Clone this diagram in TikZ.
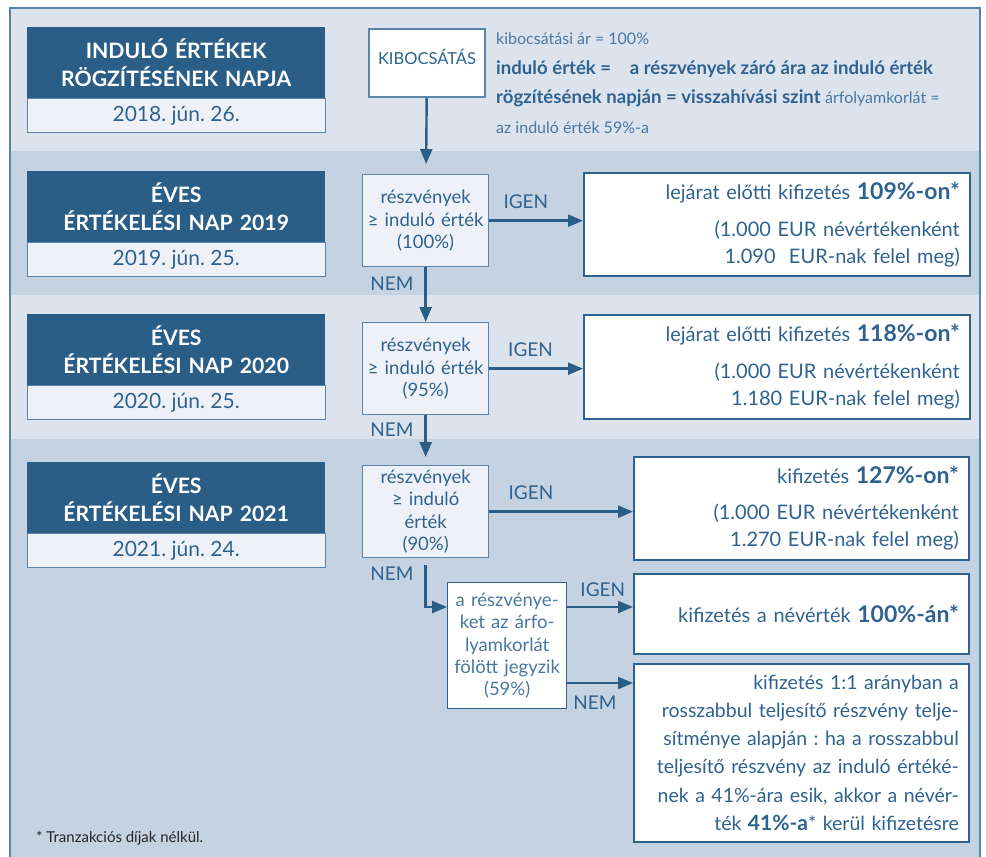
\documentclass[tikz,border=0pt]{standalone}
\usepackage{fontspec}
\setmainfont{Lato}
\usetikzlibrary{arrows.meta,positioning}
\frenchspacing

\definecolor{darkblue}{HTML}{2B5E87}
\definecolor{textblue}{HTML}{2F6290}
\definecolor{softblue}{HTML}{4A78A3}
\definecolor{lineblue}{HTML}{5B84AD}
\definecolor{bandlight}{HTML}{DCE3ED}
\definecolor{banddark}{HTML}{C5D2E2}
\definecolor{paleblue}{HTML}{EEF2F8}

\tikzset{
  headbox/.style={fill=darkblue, text=white, inner sep=0pt, text width=298pt,
    minimum height=71pt, align=center, font=\bfseries\fontsize{21.2}{28}\selectfont},
  datebox/.style={fill=paleblue, draw=lineblue, line width=1pt, inner sep=0pt,
    minimum width=298pt, minimum height=34pt, text=textblue, font=\fontsize{21}{25}\selectfont},
  kibbox/.style={fill=white, draw=lineblue, line width=2pt, inner sep=0pt,
    minimum width=116pt, minimum height=68pt, text depth=12pt, text=textblue,
    font=\fontsize{16.5}{20}\selectfont},
  decbox/.style={fill=paleblue, draw=lineblue, line width=1.3pt, inner sep=0pt,
    text width=126pt, minimum height=92pt, align=center, text=textblue,
    font=\fontsize{18.5}{22.3}\selectfont},
  limbox/.style={decbox, fill=white, draw=textblue, text width=119pt, minimum height=126pt, text=softblue},
  reswide/.style={fill=white, draw=textblue, line width=1.6pt, inner xsep=10pt, inner ysep=0pt,
    text width=366pt, align=right, text=textblue, font=\fontsize{20}{27}\selectfont},
  resnarrow/.style={reswide, text width=315pt},
  arr/.style={-{Triangle[length=15pt,width=12pt]}, line width=2.4pt, draw=darkblue},
  lbl/.style={text=textblue, font=\fontsize{19}{22}\selectfont, inner sep=2pt},
}
\newcommand{\bignum}[1]{{\bfseries\fontsize{23}{27}\selectfont #1*}}

\begin{document}
\begin{tikzpicture}[x=1pt,y=-1pt]
\useasboundingbox (0,0) rectangle (986,857);
% bands and frame
\fill[white] (0,0) rectangle (986,857);
\fill[bandlight] (10,8) rectangle (980,151);
\fill[banddark] (10,151) rectangle (980,295);
\fill[bandlight] (10,295) rectangle (980,439);
\fill[banddark] (10,439) rectangle (980,870);
\draw[lineblue, line width=1.3pt] (10,870) -- (10,8) -- (980,8) -- (980,870);

% date column
\node[headbox, anchor=north west] (head1) at (27,27) {INDULÓ ÉRTÉKEK\\RÖGZÍTÉSÉNEK NAPJA};
\node[datebox, below=0pt of head1] (date1) {2018. jún. 26.};
\node[headbox, anchor=north west] (head2) at (27,171) {ÉVES\\ÉRTÉKELÉSI NAP 2019};
\node[datebox, below=0pt of head2] (date2) {2019. jún. 25.};
\node[headbox, anchor=north west] (head3) at (27,314) {ÉVES\\ÉRTÉKELÉSI NAP 2020};
\node[datebox, below=0pt of head3] (date3) {2020. jún. 25.};
\node[headbox, anchor=north west] (head4) at (27,462) {ÉVES\\ÉRTÉKELÉSI NAP 2021};
\node[datebox, below=0pt of head4] (date4) {2021. jún. 24.};

% issue
\node[kibbox, anchor=north west] (kib) at (368,28) {KIBOCSÁTÁS};
\node[anchor=north west, inner sep=0pt, align=left, text=textblue,
  font=\bfseries\fontsize{18.6}{29.5}\selectfont] (note) at (496,33)
  {{\mdseries\color{softblue}\fontsize{16}{29.5}\selectfont kibocsátási ár = 100\%}\\
   induló érték =\hspace{1em}a részvények záró ára az induló érték\\
   rögzítésének napján = visszahívási szint {\mdseries\color{softblue}\fontsize{16}{29.5}\selectfont árfolyamkorlát =}\\
   {\mdseries\color{softblue}\fontsize{16}{29.5}\selectfont az induló érték 59\%-a}};

% decisions
\node[decbox, anchor=north west] (dec1) at (362,174) {részvények\\≥ induló érték\\(100\%)};
\node[decbox, anchor=north west] (dec2) at (362,322) {részvények\\≥ induló érték\\(95\%)};
\node[decbox, anchor=north west] (dec3) at (362,465) {részvények\\≥ induló\\érték\\(90\%)};
\node[limbox, anchor=north west] (lim) at (447,582) {a részvénye-\\ket az árfo-\\lyamkorlát\\fölött jegyzik\\(59\%)};

% outcomes
\node[reswide, anchor=north west, minimum height=103pt] (res1) at (583,172)
  {lejárat előtti kifizetés \bignum{109\%-on}\\[10pt] (1.000 EUR névértékenként\\ 1.090~~EUR-nak felel meg)};
\node[reswide, anchor=north west, minimum height=104pt] (res2) at (583,314)
  {lejárat előtti kifizetés \bignum{118\%-on}\\[10pt] (1.000 EUR névértékenként\\ 1.180 EUR-nak felel meg)};
\node[resnarrow, anchor=north west, minimum height=103pt] (res3) at (633,456)
  {kifizetés \bignum{127\%-on}\\[9pt] (1.000 EUR névértékenként\\ 1.270 EUR-nak felel meg)};
\node[resnarrow, anchor=north west, minimum height=80pt] (res4) at (633,573)
  {kifizetés a névérték \bignum{100\%-án}};
\node[resnarrow, anchor=north west, minimum height=178pt, font=\fontsize{19.5}{28.2}\selectfont] (res5) at (633,663)
  {kifizetés 1:1 arányban a\\ rosszabbul teljesítő részvény telje-\\ sítménye alapján : ha a rosszabbul\\
   teljesítő részvény az induló értéké-\\ nek a 41\%-ára esik, akkor a névér-\\ ték {\bfseries\fontsize{21}{28}\selectfont 41\%-a}* kerül kifizetésre};

% connectors
\draw[arr, shorten >=10pt] (kib) -- (dec1);
\draw[arr] (dec1) -- (dec2) node[lbl, pos=0.3, left=9pt] (nem1) {NEM};
\draw[arr, shorten >=8pt] (dec2) -- (dec3) node[lbl, pos=0.29, left=9pt] (nem2) {NEM};
\draw[arr] ([yshift=-7pt]dec3.south) |- ([yshift=-25pt]lim.north west) node[lbl, pos=0.1, left=9pt] (nem3) {NEM};
\draw[arr] (dec1.east) -- (dec1.east -| res1.west) node[lbl, pos=0.39, above=9pt] (igen1) {IGEN};
\draw[arr] (dec2.east) -- (dec2.east -| res2.west) node[lbl, pos=0.44, above=9pt] (igen2) {IGEN};
\draw[arr] (dec3.east) -- (dec3.east -| res3.west) node[lbl, pos=0.29, above=9pt] (igen3) {IGEN};
\draw[arr] ([yshift=-25pt]lim.north east) -- ([yshift=-25pt]lim.north east -| res4.west) node[lbl, pos=0.54, above=7pt] (igen4) {IGEN};
\draw[arr] ([yshift=-101pt]lim.north east) -- ([yshift=-101pt]lim.north east -| res5.west) node[lbl, pos=0.42, below=10pt] (nem4) {NEM};

\node[anchor=west, inner sep=0pt, text=black!85, font=\fontsize{15}{17}\selectfont] (foot) at (36,838) {* Tranzakciós díjak nélkül.};
\end{tikzpicture}
\end{document}
